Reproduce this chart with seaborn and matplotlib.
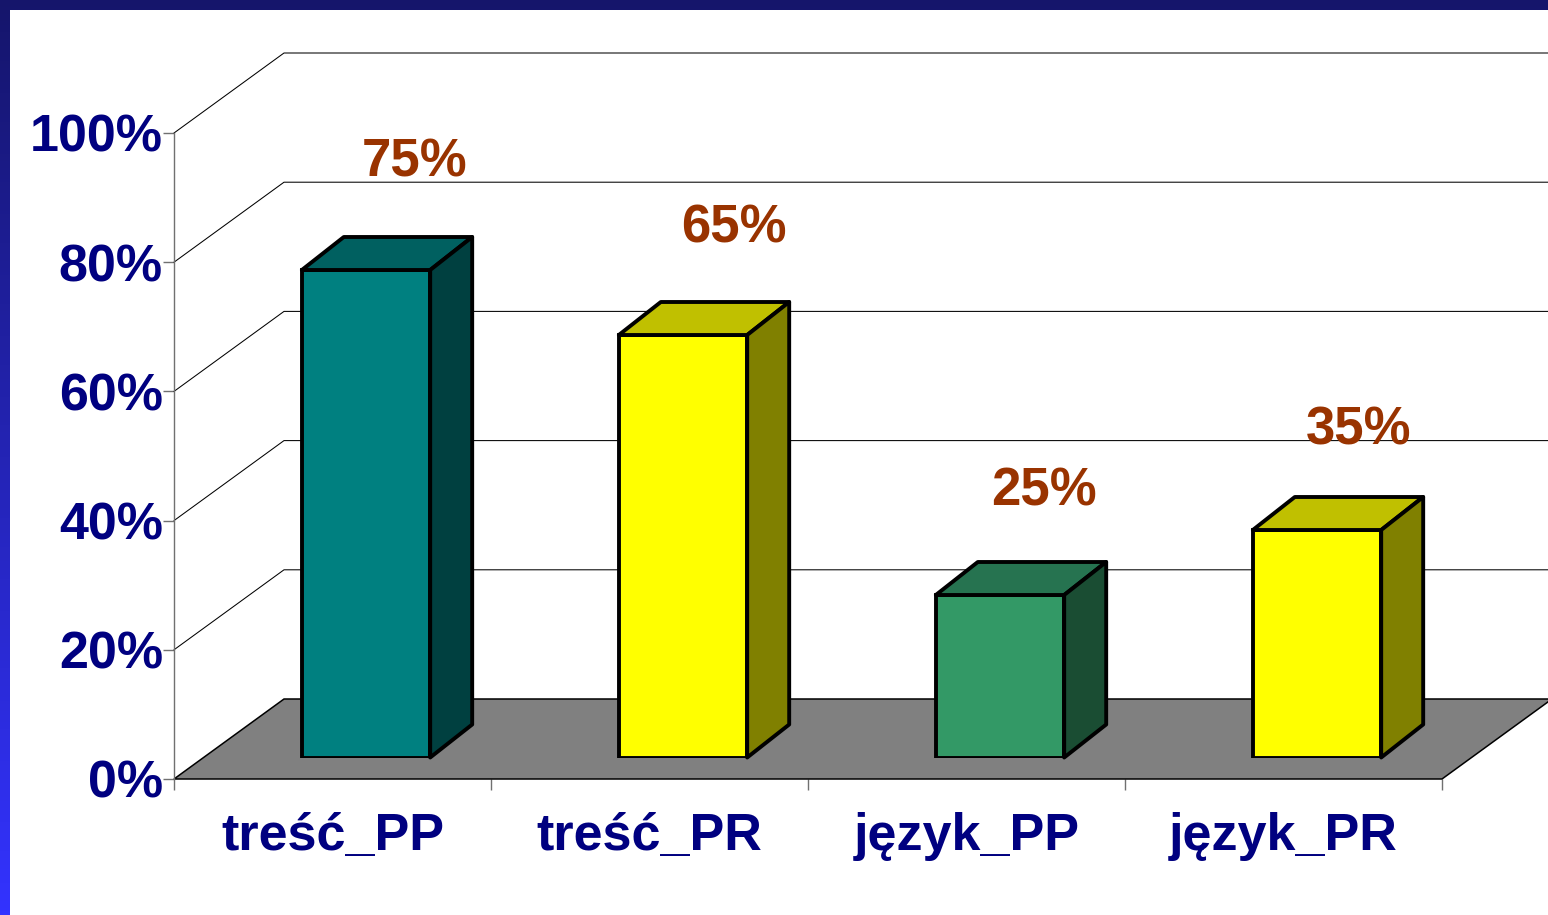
#!/usr/bin/env python3

import numpy as np
import seaborn as sns
from matplotlib import pyplot as plt
from matplotlib.patches import Polygon

categories = ["treść_PP", "treść_PR", "język_PP", "język_PR"]
values = [75, 65, 25, 35]
y_ticks = [0, 20, 40, 60, 80, 100]
y_tick_labels = ["0%", "20%", "40%", "60%", "80%", "100%"]

front_colors = ["#008080", "#FFFF00", "#339966", "#FFFF00"]
top_colors = ["#006060", "#C0C000", "#267350", "#C0C000"]
side_colors = ["#004040", "#808000", "#1A4D33", "#808000"]
label_nudge_x = [0.153, 0.16, 0.14, 0.13]
label_nudge_y = [14.4, 14.3, 13.7, 13.2]

NAVY = "#000080"
BROWN = "#993300"
W, H = 1548, 915


def px_axes(fig, left, right, top, bottom, zorder):
    ax = fig.add_axes([left / W, 1 - bottom / H, (right - left) / W, (bottom - top) / H], zorder=zorder)
    ax.patch.set_visible(False)
    return ax


def draw_border(fig):
    bg = fig.add_axes([0, 0, 1, 1], zorder=0)
    blue = np.linspace(0, 1, 256).reshape(-1, 1, 1)
    dark, bright = np.array([21, 21, 107]) / 255, np.array([51, 51, 255]) / 255
    gradient = dark + (bright - dark) * blue
    bg.imshow(gradient, extent=(0, W, H, 0), aspect="auto")
    bg.fill_between([10, W], 10, H, color="white", lw=0)
    bg.set_xlim(0, W)
    bg.set_ylim(H, 0)
    bg.axis("off")


def draw_frame(fig):
    ax = px_axes(fig, 174, 1442, 133, 779, 1)
    ax.set_xlim(-0.5, 3.5)
    ax.set_ylim(0, 100)

    # depth of the 3d box, in axis units
    dx, dy = 110 / 317, 80 / 6.46
    ax.add_patch(Polygon([(-0.5, 0), (3.5, 0), (3.5 + dx, dy), (-0.5 + dx, dy)], closed=True,
                         fc="#808080", ec="black", lw=1.1, clip_on=False))
    for tick in y_ticks[1:]:
        ax.plot([-0.5, -0.5 + dx, 3.5 + dx], [tick, tick + dy, tick + dy], color="black", lw=0.75, clip_on=False)

    sns.despine(ax=ax, top=True, right=True)
    ax.spines["left"].set_color("#707070")
    ax.spines["left"].set_linewidth(1.0)
    ax.spines["bottom"].set_visible(False)

    ax.set_yticks(y_ticks, y_tick_labels)
    ax.set_xticks([-0.5, 0.5, 1.5, 2.5, 3.5], [""] * 5)
    ax.set_xticks(range(len(categories)), categories, minor=True)
    ax.tick_params(axis="y", length=8, width=1.0, color="#707070", pad=0, left=True)
    ax.tick_params(axis="x", which="major", length=8, width=1.0, color="#707070", bottom=True)
    ax.tick_params(axis="x", which="minor", length=0, pad=24)
    for label in ax.get_yticklabels() + ax.get_xticklabels(minor=True):
        label.set_fontsize(37.5)
        label.set_fontweight("bold")
        label.set_color(NAVY)
    return ax


def draw_bars(fig):
    ax = px_axes(fig, 207.5, 1475.5, 107.5, 757.5, 2)
    sns.barplot(x=categories, y=values, hue=categories, palette=front_colors, legend=False, saturation=1,
                width=0.405, edgecolor="black", linewidth=2.8, ax=ax)
    ax.set_xlim(-0.5, 3.5)
    ax.set_ylim(0, 100)
    ax.axis("off")

    dx, dy = 42 / 317, 33 / 6.5
    for i, bar in enumerate(ax.patches):
        x0, x1 = bar.get_x(), bar.get_x() + bar.get_width()
        h = bar.get_height()
        ax.add_patch(Polygon([(x0, h), (x1, h), (x1 + dx, h + dy), (x0 + dx, h + dy)], closed=True,
                             fc=top_colors[i], ec="black", lw=2.8, joinstyle="round", clip_on=False))
        ax.add_patch(Polygon([(x1, 0), (x1 + dx, dy), (x1 + dx, h + dy), (x1, h)], closed=True,
                             fc=side_colors[i], ec="black", lw=2.8, joinstyle="round", clip_on=False))
        ax.text(i + label_nudge_x[i], h + label_nudge_y[i], f"{h:.0f}%", ha="center", va="baseline",
                fontsize=38, fontweight="bold", color=BROWN, clip_on=False)
    return ax


def main():
    sns.set_theme(style="white")
    plt.rcParams["font.family"] = ["Liberation Sans", "DejaVu Sans"]

    fig = plt.figure(figsize=(W / 100, H / 100), dpi=100)
    draw_border(fig)
    draw_frame(fig)
    draw_bars(fig)
    fig.savefig("out.png", dpi=100)
    plt.close(fig)


if __name__ == '__main__':
    main()
